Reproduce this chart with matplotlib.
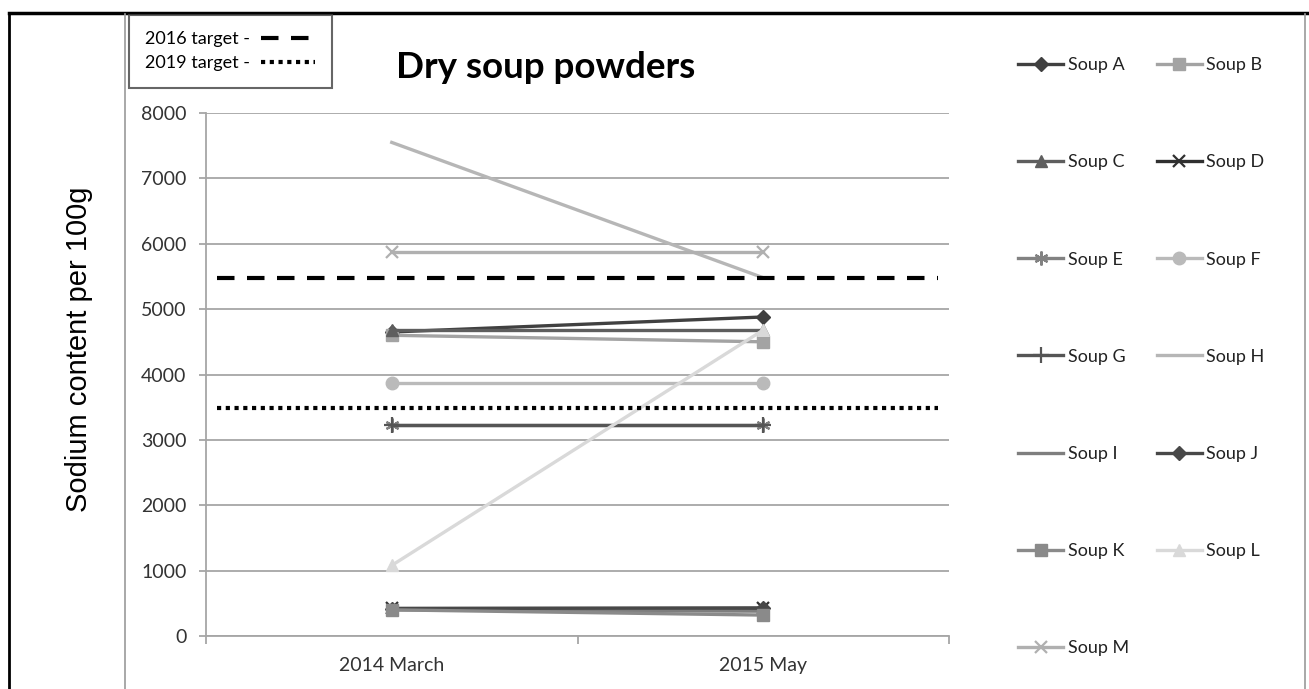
import matplotlib
matplotlib.use("Agg")
import matplotlib.pyplot as plt
from matplotlib.lines import Line2D

# categories on the x axis
periods = ["2014 March", "2015 May"]

# sodium per 100g
soup_names = ["Soup A", "Soup B", "Soup C", "Soup D", "Soup E", "Soup F", "Soup G",
              "Soup H", "Soup I", "Soup J", "Soup K", "Soup L", "Soup M"]
soup_a = [4650, 4880]
soup_b = [4600, 4500]
soup_c = [4680, 4680]
soup_d = [430, 430]
soup_e = [3230, 3230]
soup_f = [3870, 3870]
soup_g = [3230, 3230]
soup_h = [7550, 5480]
soup_i = [400, 380]
soup_j = [420, 430]
soup_k = [400, 320]
soup_l = [1080, 4680]
soup_m = [5880, 5880]

target_names = ["2016 target -", "2019 target -"]
target_values = [5480, 3490]

yticks = [0, 1000, 2000, 3000, 4000, 5000, 6000, 7000, 8000]

# style per series: colour, marker, marker size
styles = [
    ("#404040", "D", 7),
    ("#a3a3a3", "s", 8),
    ("#5e5e5e", "^", 8),
    ("#303030", "x", 9),
    ("#828282", (6, 2, 0), 10),
    ("#bababa", "o", 9),
    ("#555555", "+", 11),
    ("#b6b6b6", None, 0),
    ("#7e7e7e", None, 0),
    ("#484848", "D", 7),
    ("#8a8a8a", "s", 8),
    ("#d9d9d9", "^", 8),
    ("#b0b0b0", "x", 9),
]

series = [soup_a, soup_b, soup_c, soup_d, soup_e, soup_f, soup_g,
          soup_h, soup_i, soup_j, soup_k, soup_l, soup_m]

W, H = 1309, 689
fig = plt.figure(figsize=(W / 100, H / 100), dpi=100)
ax = fig.add_axes([206 / W, 1 - 636 / H, (949 - 206) / W, (636 - 113) / H])

grid_col = "#a6a6a6"
ax.set_ylim(0, 8000)
ax.set_xlim(-0.5, 1.5)
ax.set_yticks(yticks)
ax.yaxis.grid(True, color=grid_col, lw=1.3)
ax.set_axisbelow(True)
for s in ["top", "right"]:
    ax.spines[s].set_visible(False)
for s in ["left", "bottom"]:
    ax.spines[s].set_color(grid_col)
    ax.spines[s].set_linewidth(1.3)

ax.set_xticks(range(len(periods)))
ax.set_xticklabels(periods)
ax.set_xticks([-0.5, 0.5, 1.5], minor=True)
ax.tick_params(axis="x", which="major", length=0, pad=15, labelsize=14, labelcolor="#333333")
ax.tick_params(axis="x", which="minor", length=6, color=grid_col, width=1.3)
ax.tick_params(axis="y", length=5, color=grid_col, width=1.3, pad=9, labelsize=14,
               labelcolor="#333333")
for lab in ax.get_xticklabels() + ax.get_yticklabels():
    lab.set_family("Lato")

x = list(range(len(periods)))
handles = []
for name, vals, (col, mk, ms) in zip(soup_names, series, styles):
    extra = {}
    if mk in ("x", "+") or isinstance(mk, tuple):
        extra["markeredgewidth"] = 1.6
    ln, = ax.plot(x, vals, color=col, lw=2.4, marker=mk, markersize=ms,
                  markerfacecolor=col, markeredgecolor=col, label=name, zorder=3, **extra)
    handles.append(ln)

# target lines
t_styles = [(0, (4.2, 3.0)), (0, (1.0, 1.1))]
t_handles = []
for name, val, ls in zip(target_names, target_values, t_styles):
    ax.hlines(val, -0.47, 1.47, colors="black", lw=3, linestyles=[ls], zorder=4)
    t_handles.append(Line2D([], [], color="black", lw=3, linestyle=ls, label=name))

# legend of soups, row-wise order like the original
order = [0, 2, 4, 6, 8, 10, 12, 1, 3, 5, 7, 9, 11]
leg = fig.legend([handles[i] for i in order], [soup_names[i] for i in order],
                 loc="upper left", bbox_to_anchor=(1018 / W, 1 - 57 / H), ncol=2,
                 frameon=False, handlelength=2.5, handletextpad=0.25,
                 labelspacing=4.5, columnspacing=1.55, borderaxespad=0, borderpad=0,
                 prop={"family": "Lato", "size": 13})
for t in leg.get_texts():
    t.set_color("#222222")

# target legend in the top left box
tleg = fig.legend(t_handles, target_names, loc="upper left",
                  bbox_to_anchor=(129 / W, 1 - 15 / H), frameon=True, fancybox=False,
                  markerfirst=False, handlelength=3.0, handletextpad=0.6,
                  labelspacing=0.45, borderpad=0.9, borderaxespad=0,
                  prop={"family": "Lato", "size": 13})
tleg.get_frame().set_edgecolor("#404040")
tleg.get_frame().set_linewidth(1.5)

fig.text(546 / W, 1 - 68 / H, "Dry soup powders", ha="center", va="center",
         fontsize=26.5, fontweight="bold", family="Lato")
fig.text(79 / W, 1 - 349 / H, "Sodium content per 100g", rotation=90,
         ha="center", va="center", fontsize=21, family="Liberation Sans")

# frame lines of the original table cell
fig.add_artist(Line2D([9 / W, 9 / W], [0, 1 - 13 / H], color="black", lw=2))
fig.add_artist(Line2D([9 / W, 1307 / W], [1 - 13 / H, 1 - 13 / H], color="black", lw=2.5))
fig.add_artist(Line2D([125 / W, 125 / W], [0, 1 - 14 / H], color="#9a9a9a", lw=1.2))
fig.add_artist(Line2D([1305 / W, 1305 / W], [0, 1 - 14 / H], color="#9a9a9a", lw=1.2))

fig.savefig("out.png", dpi=100)
